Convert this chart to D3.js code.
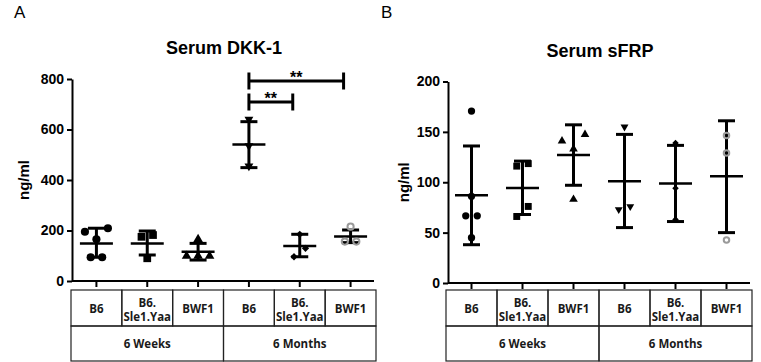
<!DOCTYPE html>
<html>
<head>
<meta charset="utf-8">
<script src="https://cdn.jsdelivr.net/npm/d3@7/dist/d3.min.js"></script>
<style>
  html, body { margin: 0; padding: 0; background: #fff; }
  svg { display: block; font-family: "Liberation Sans", Arial, sans-serif; }
</style>
</head>
<body>
<svg id="chart" width="761" height="362"></svg>
<script>
// categories ('|' marks a line break in the table)
const strains = ['B6', 'B6.|Sle1.Yaa', 'BWF1'];
const ages = ['6 Weeks', '6 Months'];
const groups = ['B6 6w', 'Sle1.Yaa 6w', 'BWF1 6w', 'B6 6m', 'Sle1.Yaa 6m', 'BWF1 6m'];

// Serum DKK-1 (ng/ml)
const dkkPoints = [
  [209, 195, 165, 94, 94],
  [182, 175, 90],
  [165, 99, 99, 99],
  [640, 535, 455],
  [185, 129.5, 96],
  [215, 156, 156]
];
const dkkMean = [149, 149, 116, 541, 139, 176];
const dkkLow = [94, 103, 83, 449, 96, 152];
const dkkHigh = [209, 198, 149, 631, 185, 202];
const dkkTicks = [0, 200, 400, 600, 800];
// significance brackets: [from group, to group, label]
const dkkSig = [[3, 4, '**'], [3, 5, '**']];

// Serum sFRP (ng/ml)
const sfrpPoints = [
  [170.6, 86, 66.7, 66.7, 45],
  [118.5, 116, 76, 66],
  [147.5, 141, 133, 83],
  [155, 76, 73],
  [139, 94, 63],
  [146.5, 129, 42.6]
];
const sfrpMean = [87, 94.4, 127, 101, 98.7, 106];
const sfrpLow = [38, 68, 97, 55, 61, 50];
const sfrpHigh = [136, 121, 157, 147.5, 136.6, 161];
const sfrpTicks = [0, 50, 100, 150, 200];

const svg = d3.select('#chart');
svg.append('rect').attr('width', 761).attr('height', 362).attr('fill', '#fff');

// marker per group
const markers = [
  { type: d3.symbolCircle, size: 52, rot: 0, fill: '#000' },
  { type: d3.symbolSquare, size: 60, rot: 0, fill: '#000' },
  { type: d3.symbolTriangle, size: 40, rot: 0, fill: '#000' },
  { type: d3.symbolTriangle, size: 34, rot: 180, fill: '#000' },
  { type: d3.symbolDiamond2, size: 34, rot: 0, fill: '#000' },
  { type: d3.symbolCircle, size: 30, rot: 0, fill: 'none', stroke: '#9a9a9a' }
];

// rows of near-equal values get spread sideways (lowest value in the middle)
function dodge(values, y, gap, step) {
  const order = values.map((v, i) => i).sort((a, b) => values[a] - values[b]);
  const offsets = new Array(values.length).fill(0);
  const rows = [];
  order.forEach((i, k) => {
    if (k > 0 && Math.abs(y(values[i]) - y(values[order[k - 1]])) < gap) rows[rows.length - 1].push(i);
    else rows.push([i]);
  });
  rows.forEach(row => {
    const n = row.length;
    row.forEach((i, k) => {
      let off;
      if (n % 2) off = k === 0 ? 0 : Math.ceil(k / 2) * step * (k % 2 ? -1 : 1);
      else off = (Math.floor(k / 2) + 0.5) * step * (k % 2 ? 1 : -1);
      offsets[i] = off;
    });
  });
  return offsets;
}

function drawPanel(o) {
  const x = d3.scaleBand().domain(groups).range([o.x0, o.x1]);
  const y = d3.scaleLinear().domain([0, o.max]).range([o.yBottom, o.yTop]);
  const cx = i => x(groups[i]) + x.bandwidth() / 2;
  const g = svg.append('g');

  // panel letter + title
  svg.append('text')
    .attr('x', o.letterX).attr('y', 18)
    .attr('font-size', '17px')
    .text(o.letter);

  svg.append('text')
    .attr('x', (o.axisX + o.x1) / 2).attr('y', o.titleY)
    .attr('text-anchor', 'middle')
    .attr('font-size', '18px').attr('font-weight', 'bold')
    .text(o.title);

  // Y axis
  const yAxis = g.append('g')
    .attr('transform', `translate(${o.axisX},0)`)
    .call(d3.axisLeft(y).tickValues(o.ticks).tickSize(5).tickSizeOuter(0).tickPadding(3));
  yAxis.select('.domain').attr('stroke-width', 2);
  yAxis.selectAll('.tick line').attr('stroke-width', 2);
  yAxis.selectAll('.tick text')
    .attr('font-family', '"Liberation Sans", Arial, sans-serif')
    .attr('font-size', '14px').attr('font-weight', 'bold').attr('fill', '#000');

  g.append('text')
    .attr('transform', 'rotate(-90)')
    .attr('x', -(o.yTop + o.yBottom) / 2)
    .attr('y', o.labelX)
    .attr('text-anchor', 'middle')
    .attr('dominant-baseline', 'middle')
    .attr('font-size', '15px').attr('font-weight', 'bold')
    .text('ng/ml');

  // X axis
  g.append('line')
    .attr('x1', o.axisX).attr('x2', o.x1 - 2)
    .attr('y1', y(0)).attr('y2', y(0))
    .attr('stroke', '#000').attr('stroke-width', 2);
  const xAxis = g.append('g')
    .attr('transform', `translate(0,${y(0)})`)
    .call(d3.axisBottom(x).tickSize(6).tickSizeOuter(0).tickFormat(''));
  xAxis.select('.domain').remove();
  xAxis.selectAll('.tick line').attr('stroke-width', 2);

  // error bars + mean
  groups.forEach((name, i) => {
    const bar = g.append('g').attr('stroke', '#000');
    bar.append('line')
      .attr('x1', cx(i)).attr('x2', cx(i))
      .attr('y1', y(o.low[i])).attr('y2', y(o.high[i]))
      .attr('stroke-width', 3);
    [o.low[i], o.high[i]].forEach(v => {
      bar.append('line')
        .attr('x1', cx(i) - 8.5).attr('x2', cx(i) + 8.5)
        .attr('y1', y(v)).attr('y2', y(v))
        .attr('stroke-width', 3);
    });
    bar.append('line')
      .attr('x1', cx(i) - 16.5).attr('x2', cx(i) + 16.5)
      .attr('y1', y(o.mean[i])).attr('y2', y(o.mean[i]))
      .attr('stroke-width', 2.5);
  });

  // points
  groups.forEach((name, i) => {
    const m = markers[i];
    const offs = dodge(o.points[i], y, 10.5, 11.5);
    const sym = d3.symbol().type(m.type).size(m.size * o.scale);
    g.selectAll(null)
      .data(o.points[i])
      .join('path')
      .attr('d', sym)
      .attr('transform', (d, k) => `translate(${cx(i) + offs[k]},${y(d)}) rotate(${m.rot})`)
      .attr('fill', m.fill)
      .attr('stroke', m.stroke || 'none')
      .attr('stroke-width', m.stroke ? 2 : 0);
  });

  // significance brackets
  (o.sig || []).forEach(([a, b, label], k) => {
    const yy = o.sigY[k];
    const xa = cx(a), xb = cx(b) - 7;
    const br = g.append('g').attr('stroke', '#000').attr('stroke-width', 3);
    br.append('line').attr('x1', xa).attr('x2', xb).attr('y1', yy).attr('y2', yy);
    br.append('line').attr('x1', xa).attr('x2', xa).attr('y1', yy - 8.5).attr('y2', yy + 8.5);
    br.append('line').attr('x1', xb).attr('x2', xb).attr('y1', yy - 8.5).attr('y2', yy + 8.5);
    g.append('text')
      .attr('x', (xa + xb) / 2).attr('y', yy + 2)
      .attr('text-anchor', 'middle')
      .attr('font-size', '16px').attr('font-weight', 'bold')
      .text(label);
  });

  // category table
  const top = 290, r1 = 36, r2 = 35;
  const t = svg.append('g')
    .attr('font-family', '"Open Sans", Lato, sans-serif')
    .attr('font-weight', 'bold').attr('font-size', '11.5px')
    .attr('fill', '#1a1a1a');
  groups.forEach((name, i) => {
    t.append('rect')
      .attr('x', x(name)).attr('y', top)
      .attr('width', x.bandwidth()).attr('height', r1)
      .attr('fill', 'none').attr('stroke', '#222').attr('stroke-width', 1.2);
    const lines = strains[i % 3].split('|');
    lines.forEach((s, k) => {
      t.append('text')
        .attr('x', cx(i))
        .attr('y', lines.length === 1 ? top + 23 : top + 17 + k * 14)
        .attr('text-anchor', 'middle')
        .text(s);
    });
  });
  ages.forEach((a, j) => {
    const xa = x(groups[j * 3]);
    const w = x.bandwidth() * 3;
    t.append('rect')
      .attr('x', xa).attr('y', top + r1)
      .attr('width', w).attr('height', r2)
      .attr('fill', 'none').attr('stroke', '#222').attr('stroke-width', 1.2);
    t.append('text')
      .attr('x', xa + w / 2).attr('y', top + r1 + 22)
      .attr('text-anchor', 'middle')
      .text(a);
  });
}

drawPanel({
  letter: 'A', letterX: 14, title: 'Serum DKK-1', titleY: 54,
  x0: 71, x1: 376, axisX: 72, yTop: 79, yBottom: 281, labelX: 25,
  max: 800, ticks: dkkTicks, scale: 1,
  points: dkkPoints, mean: dkkMean, low: dkkLow, high: dkkHigh,
  sig: dkkSig, sigY: [102, 81]
});

drawPanel({
  letter: 'B', letterX: 381, title: 'Serum sFRP', titleY: 57,
  x0: 446, x1: 752, axisX: 448, yTop: 81.5, yBottom: 283, labelX: 405,
  max: 200, ticks: sfrpTicks, scale: 0.8,
  points: sfrpPoints, mean: sfrpMean, low: sfrpLow, high: sfrpHigh
});
</script>
</body>
</html>
